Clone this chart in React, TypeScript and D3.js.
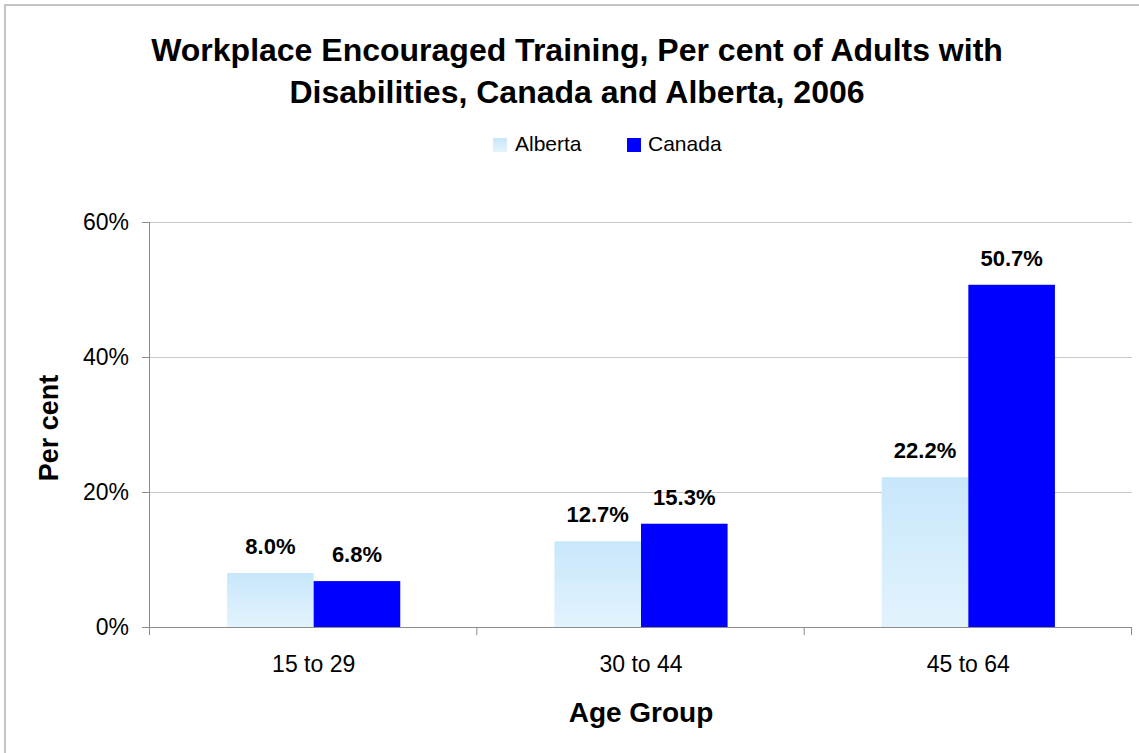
import * as d3 from 'd3';
import React from 'react';

// chart data
const categories = ['15 to 29', '30 to 44', '45 to 64'];
const seriesNames = ['Alberta', 'Canada'];
const alberta = [8.0, 12.7, 22.2];
const canada = [6.8, 15.3, 50.7];
const yTicks = [0, 20, 40, 60];

const W = 1139;
const H = 753;
const FONT = '"Liberation Sans", Arial, sans-serif';

export default function App() {
  const left = 150;
  const right = 1132;
  const top = 222;
  const bottom = 627;

  // category band
  const x0 = d3.scaleBand<string>().domain(categories).range([left, right]).padding(0);
  // bars inside each category
  const x1 = d3.scaleBand<string>()
    .domain(seriesNames)
    .range([0, x0.bandwidth()])
    .paddingInner(0)
    .paddingOuter(0.89);
  const y = d3.scaleLinear().domain([0, 60]).range([bottom, top]);

  const series = [
    { name: 'Alberta', values: alberta, fill: 'url(#albertaGrad)' },
    { name: 'Canada', values: canada, fill: '#0000ff' },
  ];

  return (
    <svg width={W} height={H} style={{ position: 'absolute', left: 0, top: 0, background: '#fff' }} fontFamily={FONT}>
      <defs>
        <linearGradient id="albertaGrad" x1="0" y1="0" x2="0" y2="1">
          <stop offset="0%" stopColor="#c8e7fb" />
          <stop offset="100%" stopColor="#e2f3fd" />
        </linearGradient>
      </defs>

      {/* outer frame */}
      <rect x={5} y={5} width={W} height={H} fill="#fff" stroke="#c4c4c4" strokeWidth={2} />

      {/* title */}
      <text x={577} y={61} textAnchor="middle" fontSize={32} fontWeight="bold">
        Workplace Encouraged Training, Per cent of Adults with
      </text>
      <text x={577} y={103} textAnchor="middle" fontSize={32} fontWeight="bold">
        Disabilities, Canada and Alberta, 2006
      </text>

      {/* legend */}
      <rect x={493} y={138} width={14} height={14} fill="url(#albertaGrad)" />
      <text x={515} y={151} fontSize={21}>Alberta</text>
      <rect x={627} y={138} width={14} height={14} fill="#0000ff" />
      <text x={648} y={151} fontSize={21}>Canada</text>

      {/* gridlines */}
      {yTicks.filter(t => t > 0).map(t => (
        <line key={t} x1={left} x2={right} y1={y(t) + 0.5} y2={y(t) + 0.5} stroke="#c8c8c8" strokeWidth={1} />
      ))}

      {/* y axis */}
      <line x1={left - 0.5} x2={left - 0.5} y1={top} y2={bottom} stroke="#8c8c8c" />
      {yTicks.map(t => (
        <g key={t}>
          <line x1={left - 8} x2={left} y1={y(t) + 0.5} y2={y(t) + 0.5} stroke="#8c8c8c" />
          <text x={129} y={y(t) + 8} textAnchor="end" fontSize={23}>{t}%</text>
        </g>
      ))}

      {/* bars */}
      {series.map(s =>
        categories.map((c, i) => {
          const bx = (x0(c) ?? 0) + (x1(s.name) ?? 0);
          const v = s.values[i];
          return (
            <g key={s.name + c}>
              <rect x={bx} y={y(v)} width={x1.bandwidth()} height={bottom - y(v)} fill={s.fill} />
              <text x={bx + x1.bandwidth() / 2} y={y(v) - 19} textAnchor="middle" fontSize={22} fontWeight="bold">
                {v.toFixed(1)}%
              </text>
            </g>
          );
        })
      )}

      {/* x axis */}
      <line x1={left - 8} x2={right} y1={bottom + 0.5} y2={bottom + 0.5} stroke="#8c8c8c" />
      {[...categories.map(c => x0(c) ?? 0), right].map((tx, i) => (
        <line key={i} x1={tx - 0.5} x2={tx - 0.5} y1={bottom} y2={bottom + 8} stroke="#8c8c8c" />
      ))}
      {categories.map(c => (
        <text key={c} x={(x0(c) ?? 0) + x0.bandwidth() / 2} y={672} textAnchor="middle" fontSize={23}>{c}</text>
      ))}

      {/* axis titles */}
      <text x={641} y={722} textAnchor="middle" fontSize={28} fontWeight="bold">Age Group</text>
      <text transform="translate(58,428) rotate(-90)" textAnchor="middle" fontSize={27} fontWeight="bold">Per cent</text>
    </svg>
  );
}
